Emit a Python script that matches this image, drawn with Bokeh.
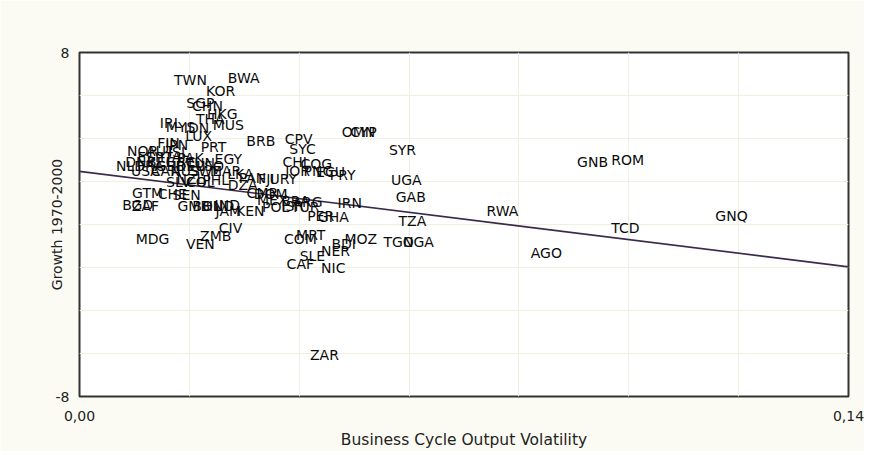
from bokeh.plotting import figure
from bokeh.models import Range1d, FixedTicker, ColumnDataSource
from bokeh.core.properties import value
from bokeh.embed import file_html
from bokeh.resources import INLINE

# Country codes, business-cycle output volatility (x) and growth 1970-2000 (y)
codes = ["TWN", "BWA", "KOR", "SGP", "CHN", "HKG", "THA", "IRL", "MYS", "IDN",
         "MUS", "LUX", "FIN", "JPN", "PRT", "BRB", "CPV", "SYC", "OMN", "CYP",
         "SYR", "NOR", "AUT", "ISL", "EGY", "ESP", "ITA", "PAK", "DNK", "BEL",
         "GRC", "TUN", "NLD", "FRA", "GBR", "DEU", "LSO", "USA", "CAN", "AUS",
         "SWE", "MAR", "LKA", "NZL", "SLV", "COL", "PHL", "DZA", "PAN", "FJI",
         "URY", "CMR", "CHL", "COG", "JOR", "PNG", "ECU", "PRY", "DOM", "MEX",
         "BRA", "ARG", "IRN", "POL", "ISR", "TUR", "PER", "GHA", "GMB", "BOL",
         "HND", "IND", "JAM", "KEN", "BGD", "ZAF", "GTM", "CHE", "SEN", "CIV",
         "ZMB", "VEN", "MDG", "MRT", "COM", "MOZ", "BDI", "NER", "SLE", "CAF",
         "NIC", "UGA", "GAB", "TZA", "TGO", "NGA", "RWA", "GNB", "ROM", "GNQ",
         "TCD", "AGO", "ZAR"]
volatility = [0.0202, 0.0299, 0.0257, 0.0220, 0.0233, 0.0260, 0.0238, 0.0166, 0.0184, 0.0213,
              0.0271, 0.0217, 0.0162, 0.0177, 0.0244, 0.0330, 0.0399, 0.0406, 0.0508, 0.0517,
              0.0588, 0.0115, 0.0147, 0.0180, 0.0271, 0.0129, 0.0166, 0.0202, 0.0111, 0.0147,
              0.0184, 0.0220, 0.0093, 0.0129, 0.0166, 0.0202, 0.0238, 0.0120, 0.0157, 0.0193,
              0.0229, 0.0266, 0.0293, 0.0202, 0.0180, 0.0220, 0.0248, 0.0297, 0.0315, 0.0340,
              0.0371, 0.0333, 0.0395, 0.0431, 0.0397, 0.0435, 0.0457, 0.0479, 0.0348, 0.0351,
              0.0393, 0.0415, 0.0492, 0.0357, 0.0388, 0.0411, 0.0439, 0.0462, 0.0208, 0.0231,
              0.0253, 0.0269, 0.0271, 0.0311, 0.0106, 0.0120, 0.0124, 0.0169, 0.0195, 0.0275,
              0.0248, 0.0220, 0.0133, 0.0421, 0.0402, 0.0512, 0.0481, 0.0466, 0.0424, 0.0402,
              0.0462, 0.0595, 0.0603, 0.0606, 0.0581, 0.0617, 0.0770, 0.0934, 0.0998, 0.1187,
              0.0994, 0.0850, 0.0446]
growth = [6.72, 6.81, 6.22, 5.67, 5.49, 5.12, 4.89, 4.71, 4.53, 4.48,
          4.62, 4.11, 3.79, 3.70, 3.61, 3.89, 3.98, 3.52, 4.30, 4.30,
          3.47, 3.43, 3.43, 3.38, 3.06, 3.15, 3.15, 3.11, 2.93, 2.93,
          2.93, 2.88, 2.70, 2.70, 2.70, 2.70, 2.70, 2.47, 2.47, 2.47,
          2.47, 2.47, 2.33, 2.10, 1.97, 1.97, 2.06, 1.83, 2.15, 2.10,
          2.10, 1.46, 2.93, 2.83, 2.47, 2.51, 2.42, 2.29, 1.42, 1.14,
          1.10, 1.05, 1.01, 0.82, 0.87, 0.82, 0.41, 0.37, 0.87, 0.87,
          0.87, 0.91, 0.64, 0.64, 0.91, 0.87, 1.46, 1.42, 1.37, -0.14,
          -0.55, -0.91, -0.69, -0.50, -0.69, -0.69, -0.91, -1.23, -1.46, -1.83,
          -2.01, 2.06, 1.28, 0.14, -0.82, -0.82, 0.64, 2.93, 3.02, 0.41,
          -0.18, -1.33, -6.08]

# Fitted regression line (end points)
fit_x = [0.0, 0.14]
fit_y = [2.47, -1.97]

# Axis ticks
x_ticks = [0.0, 0.14]
x_tick_labels = ["0,00", "0,14"]
y_ticks = [-8, 8]
y_tick_labels = ["-8", "8"]
x_grid = [0.02, 0.04, 0.06, 0.08, 0.10, 0.12]
y_grid = [-6, -4, -2, 0, 2, 4, 6]

FONT = "DejaVu Sans"

p = figure(width=864, height=451, output_backend="svg", toolbar_location=None,
           x_range=Range1d(0, 0.14), y_range=Range1d(-8, 8),
           min_border_left=79, min_border_top=52, min_border_right=16, min_border_bottom=49)
p.background_fill_color = "white"
p.border_fill_color = "#fbfbf3"
p.outline_line_color = "#333333"
p.outline_line_width = 2

src = ColumnDataSource(dict(x=volatility, y=growth, t=codes))
p.line(fit_x, fit_y, line_color="#3b2a4d", line_width=1.6)
p.text(x="x", y="y", text="t", source=src, text_align="center", text_baseline="middle",
       text_font=value(FONT), text_font_size="14px", text_color="#0a0a0a")

p.xaxis.ticker = FixedTicker(ticks=x_ticks)
p.yaxis.ticker = FixedTicker(ticks=y_ticks)
p.xaxis.major_label_overrides = dict(zip(x_ticks, x_tick_labels))
p.yaxis.major_label_overrides = dict(zip(y_ticks, y_tick_labels))
p.xgrid.ticker = FixedTicker(ticks=x_grid)
p.ygrid.ticker = FixedTicker(ticks=y_grid)
for g in (p.xgrid, p.ygrid):
    g.grid_line_color = "#f0f0e0"
    g.grid_line_width = 1

for ax in (p.xaxis, p.yaxis):
    ax.axis_line_color = None
    ax.major_tick_line_color = None
    ax.minor_tick_line_color = None
    ax.major_label_text_font = FONT
    ax.major_label_text_font_size = "14px"
    ax.major_label_text_color = "#222222"
    ax.axis_label_text_font = FONT
    ax.axis_label_text_font_style = "normal"
    ax.axis_label_text_color = "#222222"

p.xaxis.axis_label_text_font_size = "15.5px"
p.yaxis.axis_label_text_font_size = "14px"
p.xaxis.axis_label = "Business Cycle Output Volatility"
p.yaxis.axis_label = "Growth 1970-2000"
p.xaxis.major_label_standoff = 8
p.xaxis.axis_label_standoff = 7
p.yaxis.major_label_standoff = 4
p.yaxis.axis_label_standoff = -12

open("out.html", "w").write(file_html(p, INLINE))
